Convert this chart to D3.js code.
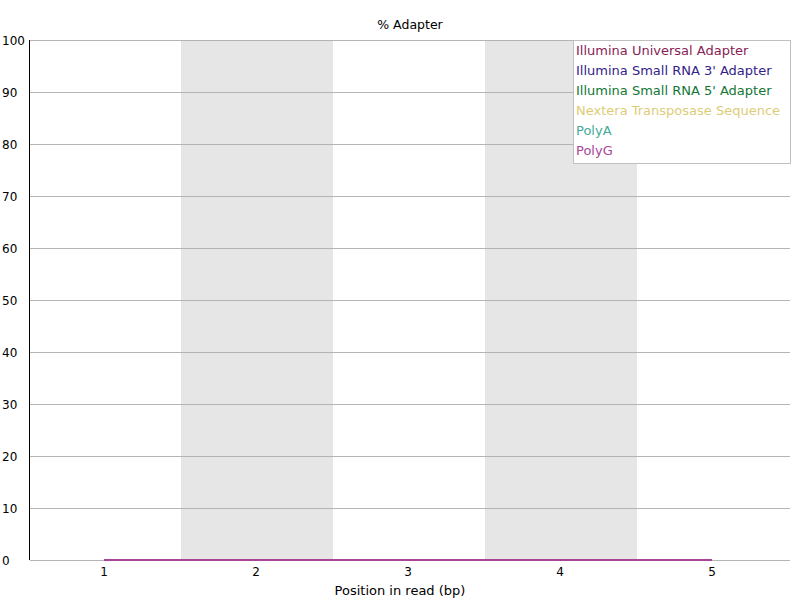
<!DOCTYPE html>
<html>
<head>
<meta charset="utf-8">
<script src="https://cdn.jsdelivr.net/npm/d3@7"></script>
<style>
  body { margin: 0; background: #fff; }
  text { font-family: "DejaVu Sans", sans-serif; font-size: 12px; }
  .label { font-size: 13px; }
</style>
</head>
<body>
<svg id="chart" width="800" height="600"></svg>
<script>
// positions along the read
var positions = [1, 2, 3, 4, 5];
var yTicks = [0, 10, 20, 30, 40, 50, 60, 70, 80, 90, 100];

// one value per position, % of reads
var seriesNames = [
    "Illumina Universal Adapter",
    "Illumina Small RNA 3' Adapter",
    "Illumina Small RNA 5' Adapter",
    "Nextera Transposase Sequence",
    "PolyA",
    "PolyG"
];
var universal = [0, 0, 0, 0, 0];
var smallRna3 = [0, 0, 0, 0, 0];
var smallRna5 = [0, 0, 0, 0, 0];
var nextera = [0, 0, 0, 0, 0];
var polyA = [0, 0, 0, 0, 0];
var polyG = [0, 0, 0, 0, 0];
var seriesColors = ["#882255", "#332288", "#117733", "#ddcc77", "#44aa99", "#aa4499"];

var series = [universal, smallRna3, smallRna5, nextera, polyA, polyG];

(function(){
    var svg = d3.select("#chart"),
        mLeft = 30, mRight = 790, mTop = 40, mBottom = 560;

    var x = d3.scaleBand().domain(positions).range([mLeft, mRight]);
    var y = d3.scaleLinear().domain([0, 100]).range([mBottom, mTop]);
    var cx = function(d){ return x(d) + x.bandwidth() / 2 - 2; };

    // alternating bands
    svg.append("g").selectAll("rect")
        .data(positions.filter(function(d, i){ return i % 2 == 1; }))
        .enter().append("rect")
        .attr("x", function(d){ return x(d) - 1; })
        .attr("y", mTop)
        .attr("width", x.bandwidth())
        .attr("height", mBottom - mTop)
        .style("fill", "#e6e6e6");

    // gridlines
    svg.append("g").selectAll("line")
        .data(yTicks)
        .enter().append("line")
        .attr("x1", mLeft).attr("x2", mRight)
        .attr("y1", function(d){ return y(d) + 0.5; })
        .attr("y2", function(d){ return y(d) + 0.5; })
        .style("stroke", "#b4b4b4")
        .style("stroke-width", 1);

    // y labels
    svg.append("g").selectAll("text")
        .data(yTicks)
        .enter().append("text")
        .attr("x", 2)
        .attr("y", function(d){ return y(d) + 5; })
        .style("fill", "#000")
        .text(function(d){ return d; });

    // y axis line
    svg.append("line")
        .attr("x1", mLeft - 0.5).attr("x2", mLeft - 0.5)
        .attr("y1", mTop).attr("y2", mBottom)
        .style("stroke", "#000");

    // x labels
    svg.append("g").selectAll("text")
        .data(positions)
        .enter().append("text")
        .attr("x", cx)
        .attr("y", 576)
        .attr("text-anchor", "middle")
        .text(function(d){ return d; });

    svg.append("text")
        .attr("class", "label")
        .style("font-size", "12.5px")
        .attr("x", (mLeft + mRight) / 2)
        .attr("y", 29)
        .attr("text-anchor", "middle")
        .text("% Adapter");

    svg.append("text")
        .attr("class", "label")
        .attr("x", 400)
        .attr("y", 595)
        .attr("text-anchor", "middle")
        .text("Position in read (bp)");

    // lines
    var line = d3.line()
        .x(function(d, i){ return cx(positions[i]); })
        .y(function(d){ return y(d); });

    svg.append("g").selectAll("path")
        .data(series)
        .enter().append("path")
        .attr("d", line)
        .style("fill", "none")
        .style("stroke", function(d, i){ return seriesColors[i]; })
        .style("stroke-width", 2);

    // legend
    var legend = svg.append("g");
    legend.append("rect")
        .attr("x", 573.5).attr("y", 40.5)
        .attr("width", 217).attr("height", 123)
        .style("fill", "#fff")
        .style("stroke", "#c0c0c0");

    legend.selectAll("text")
        .data(seriesNames)
        .enter().append("text")
        .attr("class", "label")
        .attr("x", 576)
        .attr("y", function(d, i){ return 55 + i * 20; })
        .style("fill", function(d, i){ return seriesColors[i]; })
        .text(function(d){ return d; });
})();
</script>
</body>
</html>
